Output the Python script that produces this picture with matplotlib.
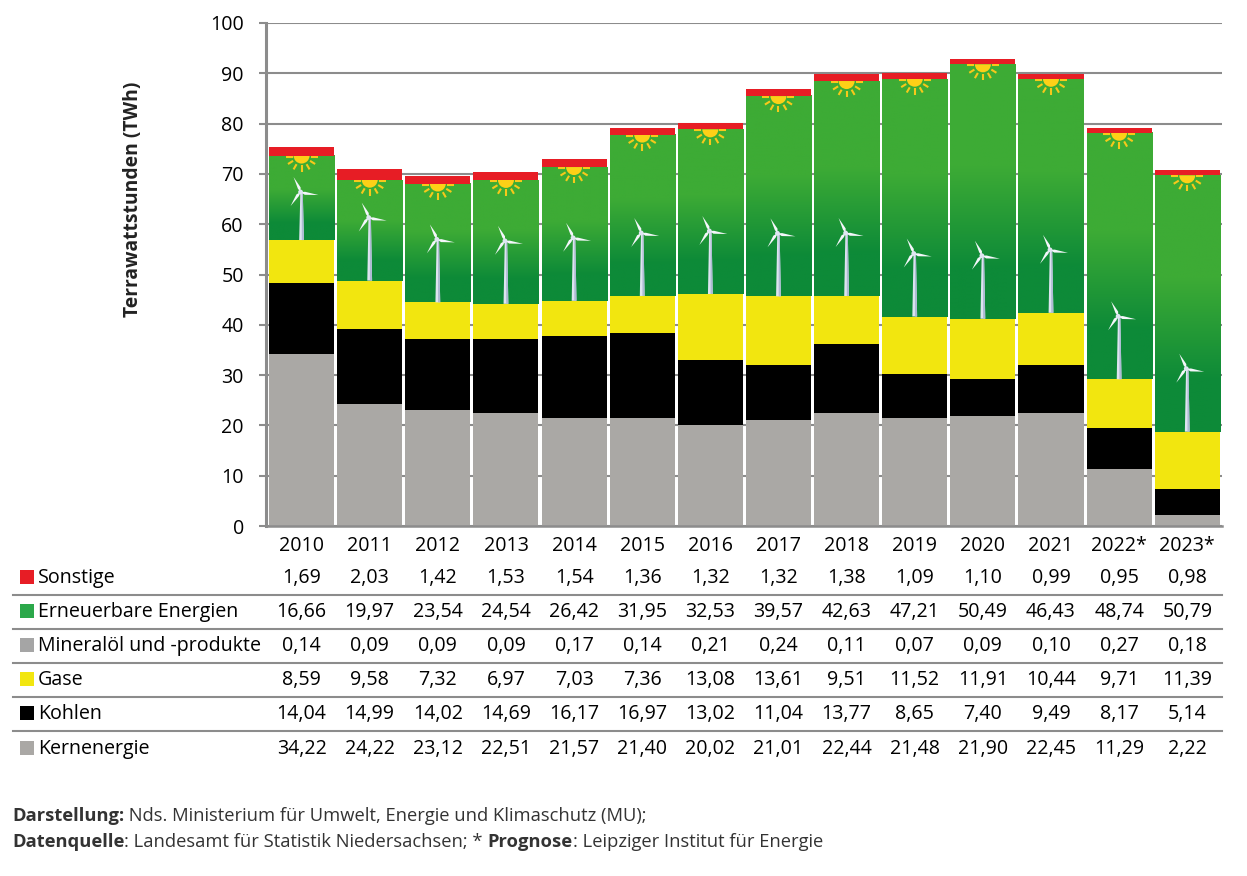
import matplotlib
matplotlib.use("Agg")
import matplotlib.pyplot as plt
import numpy as np
from matplotlib.colors import LinearSegmentedColormap
from matplotlib.lines import Line2D
from matplotlib.patches import Polygon, Rectangle, Wedge
from matplotlib.transforms import Affine2D, blended_transform_factory

plt.rcParams['font.family'] = ['Open Sans', 'DejaVu Sans']

W, H = 1247, 876

# Data, decimal comma strings in the table are built from these
years = ['2010', '2011', '2012', '2013', '2014', '2015', '2016', '2017', '2018', '2019', '2020', '2021', '2022*', '2023*']
kern = [34.22, 24.22, 23.12, 22.51, 21.57, 21.40, 20.02, 21.01, 22.44, 21.48, 21.90, 22.45, 11.29, 2.22]
kohlen = [14.04, 14.99, 14.02, 14.69, 16.17, 16.97, 13.02, 11.04, 13.77, 8.65, 7.40, 9.49, 8.17, 5.14]
gase = [8.59, 9.58, 7.32, 6.97, 7.03, 7.36, 13.08, 13.61, 9.51, 11.52, 11.91, 10.44, 9.71, 11.39]
oel = [0.14, 0.09, 0.09, 0.09, 0.17, 0.14, 0.21, 0.24, 0.11, 0.07, 0.09, 0.10, 0.27, 0.18]
erneuerbar = [16.66, 19.97, 23.54, 24.54, 26.42, 31.95, 32.53, 39.57, 42.63, 47.21, 50.49, 46.43, 48.74, 50.79]
sonstige = [1.69, 2.03, 1.42, 1.53, 1.54, 1.36, 1.32, 1.32, 1.38, 1.09, 1.10, 0.99, 0.95, 0.98]

# Stacking order, bottom to top
series = [('Kernenergie', kern, '#aaa8a5'),
          ('Kohlen', kohlen, '#000000'),
          ('Gase', gase, '#f2e60f'),
          ('Mineralöl und -produkte', oel, '#a5a5a5'),
          ('Erneuerbare Energien', erneuerbar, '#2ba84a'),
          ('Sonstige', sonstige, '#e71d25')]

GRID = '#8c8c8c'
TEXT = '#000000'
FS = 14.1


def fy(py):
    return 1 - py / H


fig = plt.figure(figsize=(W / 100, H / 100), dpi=100, facecolor='white')
ax = fig.add_axes([266 / W, fy(526), (1222 - 266) / W, (526 - 23) / H])

x = np.arange(len(years))
ax.set_xlim(-0.522, 13.51)
ax.set_ylim(0, 100)
bar_w = 0.955

# Stacked bars
bottom = np.zeros(len(years))
bottoms = {}
for name, vals, col in series:
    ax.bar(x, vals, bar_w, bottom=bottom, color=col, zorder=5 if name == 'Sonstige' else 2, linewidth=0)
    bottoms[name] = bottom.copy()
    bottom = bottom + np.array(vals)

# Green gradient over the renewables part of each bar, the thin oil layer disappears under it like in the original
green_cmap = LinearSegmentedColormap.from_list('green', [(0, '#0d8a38'), (0.2, '#0d8a38'), (0.6, '#3dab35'), (1, '#3dab35')])
grad = np.linspace(0, 1, 256).reshape(-1, 1)
green_low = bottoms['Mineralöl und -produkte']
green_top = bottoms['Erneuerbare Energien'] + np.array(erneuerbar)
for i in x:
    ax.imshow(grad, extent=[i - bar_w / 2, i + bar_w / 2, green_low[i], green_top[i]], origin='lower',
              aspect='auto', cmap=green_cmap, vmin=0, vmax=1, interpolation='bilinear', zorder=3)
ax.set_xlim(-0.522, 13.51)
ax.set_ylim(0, 100)


# Transform with pixel offsets (y down) around a data point
def px_trans(xd, yd):
    px, py = ax.transData.transform((xd, yd))
    return Affine2D().scale(1, -1).translate(px, py)


for i in x:
    # Sun hanging from the top of the green part
    tr = px_trans(i, green_top[i])
    ax.add_patch(Wedge((0, 0), 8, 0, 180, facecolor='#fdd017', edgecolor='none', transform=tr, zorder=4))
    for ang, r0 in [(0, 9), (32, 10), (60, 10), (90, 9.5), (120, 10), (148, 10), (180, 9)]:
        a = np.radians(ang)
        off = 1 if ang in (0, 180) else 0
        ax.add_line(Line2D([r0 * np.cos(a), 16 * np.cos(a)], [r0 * np.sin(a) + off, 16 * np.sin(a) + off],
                           color='#f7c91a', lw=1.5, transform=tr, zorder=4, solid_capstyle='butt'))

    # Wind turbine standing on the yellow part
    hub_up = 48 if i == 0 else 63
    tr = px_trans(i, green_low[i])
    ax.add_patch(Polygon([(-2.4, 0), (2.4, 0), (1.2, -hub_up), (-1.2, -hub_up)], closed=True,
                         facecolor='#dde4f0', edgecolor='none', transform=tr, zorder=4))
    ax.add_patch(Polygon([(0.2, 0), (2.4, 0), (1.2, -hub_up), (0.2, -hub_up)], closed=True,
                         facecolor='#aebbd4', edgecolor='none', transform=tr, zorder=4))
    hub = np.array([-1.0, -hub_up])
    for tip in [(-7, -15), (18, 3), (-10, 14)]:
        tip = np.array(tip, dtype=float)
        nrm = np.array([-tip[1], tip[0]]) / np.hypot(*tip)
        mid = hub + tip * 0.25
        ax.add_patch(Polygon([hub, mid + nrm * 2.0, hub + tip, mid - nrm * 1.0], closed=True,
                             facecolor='#f4f7fb', edgecolor='none', transform=tr, zorder=4))
    ax.add_patch(plt.Circle(hub, 2.4, facecolor='#dfe6f2', edgecolor='none', transform=tr, zorder=4))

# Axes styling
ax.set_yticks(range(0, 101, 10))
ax.grid(axis='y', color=GRID, lw=1.5, zorder=1)
ax.set_axisbelow(True)
ax.tick_params(axis='y', length=5, width=1.5, color=GRID, pad=11, labelsize=FS, labelcolor=TEXT)
ax.set_xticks(x, years)
ax.tick_params(axis='x', length=0, pad=7, labelsize=FS, labelcolor=TEXT)
for side in ['top', 'right']:
    ax.spines[side].set_visible(False)
for side in ['left', 'bottom']:
    ax.spines[side].set_color(GRID)
    ax.spines[side].set_linewidth(2.2 if side == 'left' else 1.8)
    ax.spines[side].set_zorder(6)

fig.text(133 / W, fy(199), 'Terrawattstunden (TWh)', rotation=90, ha='center', va='center',
         fontsize=13.85, fontweight='bold', color='#222222')

# Table below the chart, top row first (baselines in pixels)
row_y = [577, 611, 645, 679, 713, 748]
trans = blended_transform_factory(ax.transData, fig.transFigure)
for row, (name, vals, col) in zip(row_y, series[::-1]):
    fig.add_artist(Rectangle((20 / W, fy(row + 7)), 14 / W, 14 / H, transform=fig.transFigure,
                             facecolor=col, edgecolor='none'))
    fig.text(38 / W, fy(row + 6), name, ha='left', va='baseline', fontsize=FS, color=TEXT)
    for i, v in zip(x, vals):
        ax.text(i, fy(row + 6), f'{v:.2f}'.replace('.', ','), transform=trans, ha='center', va='baseline',
                fontsize=FS, color=TEXT, clip_on=False)

for py in [595, 629, 663, 697, 731]:
    fig.add_artist(Line2D([13 / W, 1222 / W], [fy(py), fy(py)], color=GRID, lw=1.5, transform=fig.transFigure))

# Source lines, bold and regular runs one after the other
source = [(821, [('Darstellung:', True), (' Nds. Ministerium für Umwelt, Energie und Klimaschutz (MU);', False)]),
          (847, [('Datenquelle', True), (': Landesamt für Statistik Niedersachsen; * ', False),
                 ('Prognose', True), (': Leipziger Institut für Energie', False)])]
renderer = fig.canvas.get_renderer()
for py, runs in source:
    cur = 12
    for txt, is_bold in runs:
        t = fig.text(cur / W, fy(py), txt, ha='left', va='baseline', fontsize=13.25, color='#333333',
                     fontweight='bold' if is_bold else 'normal')
        cur += t.get_window_extent(renderer).width

fig.savefig('out.png', dpi=100)
